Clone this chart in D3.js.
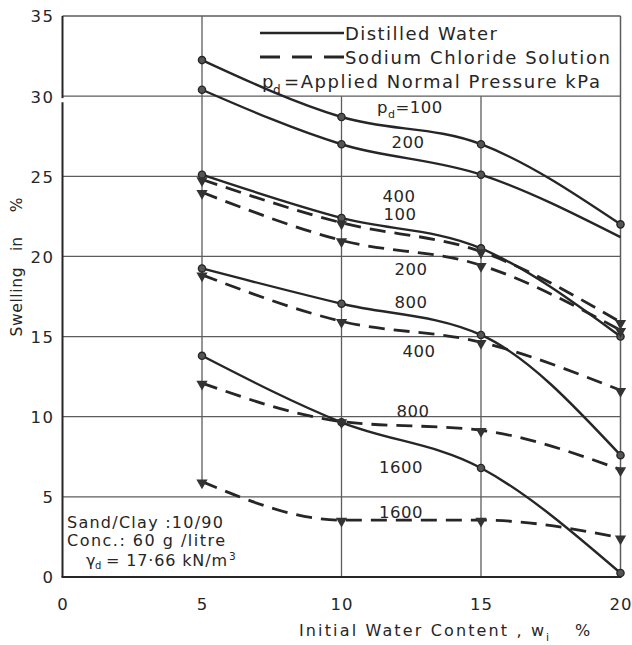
<!DOCTYPE html>
<html>
<head>
<meta charset="utf-8">
<script src="https://cdn.jsdelivr.net/npm/d3@7"></script>
<style>
  html, body { margin: 0; padding: 0; background: #fff; }
  svg { display: block; font-family: "DejaVu Sans", sans-serif; }
</style>
</head>
<body>
<svg id="chart" width="632" height="645"></svg>
<script>
// Initial water content (%) at which each test was run
const waterContent = [5, 10, 15, 20];
const xTickValues = [0, 5, 10, 15, 20];
const yTickValues = [0, 5, 10, 15, 20, 25, 30, 35];

// Swelling (%) in distilled water, by applied normal pressure (kPa)
const distilled100  = [32.25, 28.7, 27.0, 22.0];
const distilled200  = [30.4, 27.0, 25.1, 21.2];
const distilled400  = [25.1, 22.4, 20.5, 15.0];
const distilled800  = [19.25, 17.05, 15.1, 7.6];
const distilled1600 = [13.8, 9.65, 6.8, 0.25];

// Swelling (%) in sodium chloride solution, by applied normal pressure (kPa)
const sodium100  = [24.8, 22.1, 20.3, 15.9];
const sodium200  = [24.0, 21.0, 19.45, 15.4];
const sodium400  = [18.85, 15.95, 14.65, 11.65];
const sodium800  = [12.1, 9.7, 9.15, 6.7];
const sodium1600 = [5.95, 3.55, 3.55, 2.45];

const series = [
  { values: distilled100,  fluid: "water" },
  { values: distilled200,  fluid: "water", skipLast: true },
  { values: distilled400,  fluid: "water" },
  { values: distilled800,  fluid: "water" },
  { values: distilled1600, fluid: "water" },
  { values: sodium100,  fluid: "salt" },
  { values: sodium200,  fluid: "salt" },
  { values: sodium400,  fluid: "salt" },
  { values: sodium800,  fluid: "salt" },
  { values: sodium1600, fluid: "salt" }
];

const ink = "#262626";
const gridInk = "#5c5c5c";

const svg = d3.select("#chart");
const x = d3.scaleLinear().domain([0, 20]).range([62.5, 620.5]);
const y = d3.scaleLinear().domain([0, 35]).range([577, 16]);

// ---- grid and frame ----
const grid = svg.append("g");
[5, 10, 15, 20, 25, 30, 35].forEach(v => {
  grid.append("line")
    .attr("x1", x(0)).attr("x2", x(20))
    .attr("y1", y(v)).attr("y2", y(v))
    .attr("stroke", gridInk).attr("stroke-width", 1.3);
});
// verticals at 10 and 15 stop at the legend band
[10, 15].forEach(v => {
  grid.append("line")
    .attr("x1", x(v)).attr("x2", x(v))
    .attr("y1", y(30)).attr("y2", y(0))
    .attr("stroke", gridInk).attr("stroke-width", 1.3);
});
// vertical at 5 runs down to the lowest test point
grid.append("line")
  .attr("x1", x(5)).attr("x2", x(5))
  .attr("y1", y(35)).attr("y2", y(d3.min([distilled1600[0], sodium1600[0]])))
  .attr("stroke", gridInk).attr("stroke-width", 1.3);
// right frame
grid.append("line")
  .attr("x1", x(20)).attr("x2", x(20))
  .attr("y1", y(35)).attr("y2", y(0))
  .attr("stroke", gridInk).attr("stroke-width", 1.5);
// left axis (with a small break just under 30)
grid.append("line")
  .attr("x1", x(0)).attr("x2", x(0))
  .attr("y1", y(35)).attr("y2", y(30) + 2)
  .attr("stroke", ink).attr("stroke-width", 2);
grid.append("line")
  .attr("x1", x(0)).attr("x2", x(0))
  .attr("y1", y(30) + 6).attr("y2", y(0))
  .attr("stroke", ink).attr("stroke-width", 2);
// bottom axis
grid.append("line")
  .attr("x1", x(0) - 1).attr("x2", x(20) + 1)
  .attr("y1", y(0)).attr("y2", y(0))
  .attr("stroke", ink).attr("stroke-width", 2.2);

// ---- tick labels ----
const yAxis = svg.append("g")
  .attr("transform", `translate(${x(0)},0)`)
  .call(d3.axisLeft(y).tickValues(yTickValues).tickSize(0).tickPadding(8));
yAxis.select(".domain").remove();
yAxis.selectAll("text")
  .attr("font-size", 16.5).attr("fill", ink)
  .attr("font-family", "DejaVu Sans, sans-serif")
  .attr("letter-spacing", 1.5)
  .attr("dy", "0.36em");

const xAxis = svg.append("g")
  .attr("transform", `translate(0,${y(0)})`)
  .call(d3.axisBottom(x).tickValues(xTickValues).tickSize(0).tickPadding(21));
xAxis.select(".domain").remove();
xAxis.selectAll("text")
  .attr("font-size", 16.5).attr("fill", ink)
  .attr("font-family", "DejaVu Sans, sans-serif")
  .attr("letter-spacing", 1);

// ---- axis titles ----
const yTitle = [["Swelling", 302, 69], ["in", 244, 14], ["%", 205, 13]];
yTitle.forEach(([t, cy, len]) => {
  svg.append("text")
    .attr("transform", `translate(22,${cy}) rotate(-90)`)
    .attr("text-anchor", "middle")
    .attr("font-size", 15.5)
    .attr("textLength", len).attr("lengthAdjust", "spacing")
    .attr("fill", ink).text(t);
});

const xTitle = svg.append("g").attr("fill", ink).attr("font-size", 16);
xTitle.append("text").attr("x", 299).attr("y", 636)
  .attr("textLength", 245).attr("lengthAdjust", "spacing")
  .text("Initial Water Content , w");
xTitle.append("text").attr("x", 546).attr("y", 641)
  .attr("font-size", 11).text("i");
xTitle.append("text").attr("x", 575).attr("y", 636).text("%");

// ---- sample description box ----
svg.append("rect")
  .attr("x", x(0) + 1.5).attr("y", y(5) + 2)
  .attr("width", 185).attr("height", y(0) - y(5) - 3.5)
  .attr("fill", "#fff");
const note = svg.append("g").attr("fill", ink).attr("font-size", 16);
note.append("text").attr("x", 67).attr("y", 528)
  .attr("textLength", 156).attr("lengthAdjust", "spacing").text("Sand/Clay :10/90");
note.append("text").attr("x", 67).attr("y", 546)
  .attr("textLength", 158).attr("lengthAdjust", "spacing").text("Conc.: 60 g /litre");
note.append("text").attr("x", 86).attr("y", 566).text("γ");
note.append("text").attr("x", 95).attr("y", 569).attr("font-size", 10).text("d");
note.append("text").attr("x", 106).attr("y", 566)
  .attr("textLength", 121).attr("lengthAdjust", "spacing").text("= 17·66 kN/m");
note.append("text").attr("x", 229).attr("y", 560).attr("font-size", 10.5).text("3");

// ---- curves ----
const line = d3.line()
  .x((d, i) => x(waterContent[i]))
  .y(d => y(d))
  .curve(d3.curveMonotoneX);

const curves = svg.append("g");
series.forEach(s => {
  curves.append("path")
    .attr("d", line(s.values))
    .attr("fill", "none")
    .attr("stroke", ink)
    .attr("stroke-width", s.fluid === "water" ? 2.4 : 2.8)
    .attr("stroke-dasharray", s.fluid === "water" ? null : "16,9");
});

// ---- markers ----
const tri = d3.symbol().type(d3.symbolTriangle).size(55);
series.forEach(s => {
  s.values.forEach((v, i) => {
    if (s.skipLast && i === s.values.length - 1) return;
    if (s.fluid === "water") {
      curves.append("circle")
        .attr("cx", x(waterContent[i])).attr("cy", y(v)).attr("r", 3.6)
        .attr("fill", "#555").attr("stroke", ink).attr("stroke-width", 1.4);
    } else {
      curves.append("path")
        .attr("d", tri())
        .attr("transform", `translate(${x(waterContent[i])},${y(v) + 1}) rotate(180)`)
        .attr("fill", "#333");
    }
  });
});

// ---- curve labels (pressure, kPa) ----
const labels = svg.append("g").attr("fill", ink).attr("font-size", 16.5)
  .attr("text-anchor", "middle").attr("letter-spacing", 0.5);
const curveLabel = (text, xv, yv) =>
  labels.append("text").attr("x", x(xv)).attr("y", y(yv)).text(text);

const pLabel = labels.append("text").attr("text-anchor", "start")
  .attr("x", x(11.27)).attr("y", y(28.95));
pLabel.append("tspan").text("p");
pLabel.append("tspan").attr("font-size", 11).attr("dy", 5).text("d");
pLabel.append("tspan").attr("dy", -5).text("=100");

curveLabel("200", 12.38, 26.76);
curveLabel("400", 12.06, 23.39);
curveLabel("100", 12.1, 22.27);
curveLabel("200", 12.49, 18.84);
curveLabel("800", 12.49, 16.78);
curveLabel("400", 12.78, 13.72);
curveLabel("800", 12.56, 9.98);
curveLabel("1600", 12.13, 6.49);
curveLabel("1600", 12.13, 3.68);

// ---- legend ----
const legend = svg.append("g").attr("fill", ink).attr("font-size", 18);
legend.append("line")
  .attr("x1", 260).attr("x2", 344).attr("y1", 33).attr("y2", 33)
  .attr("stroke", ink).attr("stroke-width", 2.4);
legend.append("text").attr("x", 345).attr("y", 40)
  .attr("textLength", 152).attr("lengthAdjust", "spacing").text("Distilled Water");
legend.append("line")
  .attr("x1", 260).attr("x2", 344).attr("y1", 57).attr("y2", 57)
  .attr("stroke", ink).attr("stroke-width", 2.8)
  .attr("stroke-dasharray", "20,12");
legend.append("text").attr("x", 345).attr("y", 64)
  .attr("textLength", 265).attr("lengthAdjust", "spacing").text("Sodium Chloride Solution");
legend.append("text").attr("x", 262).attr("y", 88).text("p");
legend.append("text").attr("x", 273).attr("y", 94).attr("font-size", 12).text("d");
legend.append("text").attr("x", 284).attr("y", 88)
  .attr("textLength", 316).attr("lengthAdjust", "spacing").text("=Applied Normal Pressure kPa");
</script>
</body>
</html>
